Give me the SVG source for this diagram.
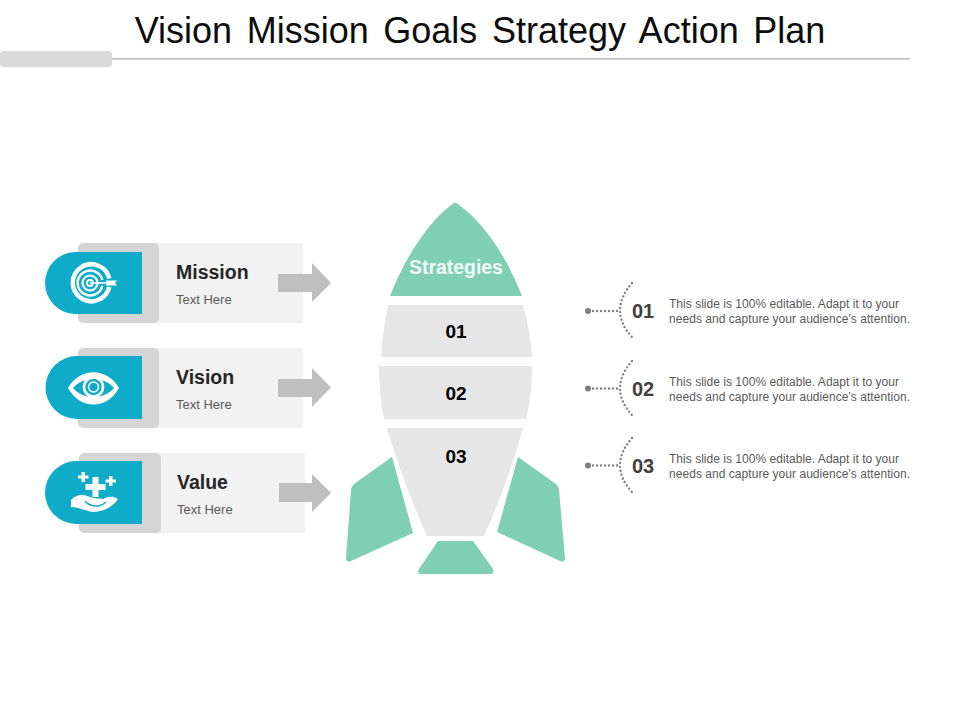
<svg xmlns="http://www.w3.org/2000/svg" width="960" height="720" viewBox="0 0 960 720">
<style>
text{font-family:"Liberation Sans",Arial,sans-serif}
.card{fill:#f2f2f2}.tab{fill:#d5d5d5}.teal{fill:#0eacc9}.arrow{fill:#bfbfbf}
.green{fill:#7fcfb5}.seg{fill:#e6e6e6}
.h{font-size:19.500px;font-weight:700;fill:#262626}
.sub{font-size:13px;fill:#595959}
.n{font-size:19px;font-weight:700;fill:#000;text-anchor:middle}
.num{font-size:20px;font-weight:700;fill:#404040;text-anchor:middle}
.d{font-size:12px;fill:#595959}
.dot{fill:none;stroke:#7f7f7f;stroke-width:2.400;stroke-linecap:round;stroke-dasharray:0 4}
.w{fill:#fff}.wl{fill:none;stroke:#fff}
</style>
<rect width="960" height="720" fill="#fff"/>
<g id="title">
<text x="480" y="43" font-size="36" text-anchor="middle" fill="#0d0d0d" word-spacing="4.600">Vision Mission Goals Strategy Action Plan</text>
<rect x="0" y="51" width="112" height="16" rx="4" fill="#d9d9d9"/>
<rect x="112" y="58" width="798" height="1.600" fill="#bfbfbf"/>
</g>
<g id="node-mission">
<rect class="card" x="150" y="243" width="153" height="80"/>
<rect class="tab" x="78" y="243" width="81" height="80" rx="5"/>
<path class="teal" d="M142 252H76a31 31 0 0 0 0 62H142Z"/>
<g class="wl">
<path d="M109.300 287A18.500 18.500 0 1 1 109.300 278.500" stroke-width="4.500"/>
<path d="M102.300 286A12.500 12.500 0 1 1 102.300 280" stroke-width="2.400"/>
<circle cx="90" cy="283" r="7.500" stroke-width="2.200"/>
<circle cx="90" cy="283" r="3" stroke-width="1.800"/>
<path d="M90 283H110" stroke-width="1.600"/>
</g>
<path class="w" d="M106 280.500h11l-2 2.500 2 2.500h-11Z"/>
<text class="h" x="176" y="279">Mission</text>
<text class="sub" x="176" y="303.500">Text Here</text>
</g>
<g id="node-vision">
<rect class="card" x="150" y="348" width="153" height="80"/>
<rect class="tab" x="78" y="348" width="81" height="80" rx="5"/>
<path class="teal" d="M142 356H77a31.500 31.500 0 0 0 0 63H142Z"/>
<path class="w" fill-rule="evenodd" d="M68 388C80 367 107 367 119 388C107 410 80 410 68 388ZM73 388C83 400 104 400 114 388C104 376 83 376 73 388Z"/>
<circle class="wl" cx="93.500" cy="387" r="9.500" stroke-width="2.600"/>
<circle class="wl" cx="93.500" cy="387" r="5" stroke-width="1.600"/>
<text class="h" x="176" y="384">Vision</text>
<text class="sub" x="176" y="408.500">Text Here</text>
</g>
<g id="node-value">
<rect class="card" x="150" y="453" width="155" height="80"/>
<rect class="tab" x="79" y="453" width="82" height="80" rx="5"/>
<path class="teal" d="M142 461H76.500a31.500 31.500 0 0 0 0 63H142Z"/>
<path class="w" d="M81.500 472h3.500v3.500h3.500v3h-3.500v3.500h-3.500v-3.500h-3.500v-3h3.500ZM109 476h3.500v3.500h3.500v3h-3.500v3.500h-3.500v-3.500h-3.500v-3h3.500ZM92.500 477h6v7h7v6h-7v7h-6v-7h-7v-6h7Z"/>
<path class="w" d="M71 500C76 494 84 494 90 497C95 499 99 498 103 499C106 497 113 495 118 499C112 508 102 512 92 512C84 510 78 507 71 507Z"/>
<path d="M85 501C90 507 100 508 106 502" fill="none" stroke="#0eacc9" stroke-width="1.500"/>
<text class="h" x="177" y="489">Value</text>
<text class="sub" x="177" y="513.500">Text Here</text>
</g>
<g id="node-rocket">
<path class="green" d="M453 203.500Q455 201.500 457 203.500C485 223 507 258 522 296H390C405 258 427 223 453 203.500Z"/>
<path class="seg" d="M388 305H523Q530 329 532 357H381Q383 329 388 305Z"/>
<path class="seg" d="M379 366H532Q532 395 526 419H384Q379 395 379 366Z"/>
<path class="seg" d="M387 428H523Q509 480 484 536H427Q402 480 387 428Z"/>
<path class="green" d="M392 457L413 533L351 561Q346 563 346 558L351 490Q351 487 354 484Z"/>
<path class="green" d="M518 457L556 484Q559 487 559 490L565 558Q565 563 560 561L497 532Z"/>
<path class="green" d="M438 541H473L493 569Q495 574 490 574H422Q416 574 419 569Z"/>
<text x="456" y="274" font-size="19.400" font-weight="700" fill="#f2faf7" text-anchor="middle">Strategies</text>
<text class="n" x="456" y="338">01</text>
<text class="n" x="456" y="400">02</text>
<text class="n" x="456" y="463">03</text>
</g>
<g id="connectors">
<path class="arrow" d="M278 274H312V263L331 283L312 302V292H278Z"/>
<path class="arrow" d="M278 379H312V368L331 387.500L312 407V397H278Z"/>
<path class="arrow" d="M279 483H312V474L331 493L312 512V502H279Z"/>
<g id="dots-1">
<circle cx="588" cy="311" r="3" fill="#7f7f7f"/>
<path class="dot" d="M593 311H620"/>
<path class="dot" d="M632 283Q608 311 632 337"/>
</g>
<g id="dots-2">
<circle cx="588" cy="388.500" r="3" fill="#7f7f7f"/>
<path class="dot" d="M593 388.500H620"/>
<path class="dot" d="M632 361Q608 388.500 632 415"/>
</g>
<g id="dots-3">
<circle cx="588" cy="465.500" r="3" fill="#7f7f7f"/>
<path class="dot" d="M593 465.500H620"/>
<path class="dot" d="M632 438Q608 465.500 632 492"/>
</g>
</g>
<g id="node-item-1">
<text class="num" x="643" y="318">01</text>
<text class="d" x="669" y="308" textLength="230">This slide is 100% editable. Adapt it to your</text>
<text class="d" x="669" y="323" textLength="241">needs and capture your audience's attention.</text>
</g>
<g id="node-item-2">
<text class="num" x="643" y="396">02</text>
<text class="d" x="669" y="386" textLength="230">This slide is 100% editable. Adapt it to your</text>
<text class="d" x="669" y="401" textLength="241">needs and capture your audience's attention.</text>
</g>
<g id="node-item-3">
<text class="num" x="643" y="473">03</text>
<text class="d" x="669" y="463" textLength="230">This slide is 100% editable. Adapt it to your</text>
<text class="d" x="669" y="478" textLength="241">needs and capture your audience's attention.</text>
</g>
</svg>
